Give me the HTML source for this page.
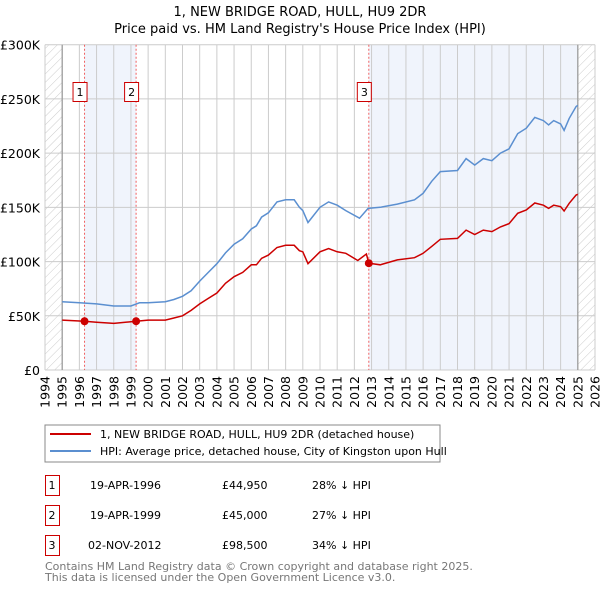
<!DOCTYPE html>
<html><head><meta charset="utf-8"><style>
body{margin:0;background:#fff;font-family:"DejaVu Sans","Liberation Sans",sans-serif;}
svg text{font-family:"DejaVu Sans","Liberation Sans",sans-serif;}
</style></head><body>
<svg id="c" width="600" height="590" xmlns="http://www.w3.org/2000/svg">
<defs><pattern id="h" width="6" height="6" patternUnits="userSpaceOnUse" patternTransform="rotate(45)"><line x1="0" y1="0" x2="0" y2="6" stroke="#ccc" stroke-width="1"/></pattern></defs>
<text x="300" y="16" text-anchor="middle" font-size="13">1, NEW BRIDGE ROAD, HULL, HU9 2DR</text>
<text x="300" y="33" text-anchor="middle" font-size="13">Price paid vs. HM Land Registry's House Price Index (HPI)</text>
<g id="plot"></g>
<rect x="45" y="425" width="395" height="37" fill="#fff" stroke="#888"/>
<line x1="50" y1="434" x2="91" y2="434" stroke="#cc0000" stroke-width="2"/>
<text x="100" y="438" font-size="11">1, NEW BRIDGE ROAD, HULL, HU9 2DR (detached house)</text>
<line x1="50" y1="451" x2="91" y2="451" stroke="#5b8fd0" stroke-width="2"/>
<text x="100" y="455" font-size="11">HPI: Average price, detached house, City of Kingston upon Hull</text>
<g font-size="11">
<rect x="45.5" y="475.5" width="14" height="20" fill="#fff" stroke="#cc0000"/><text x="52" y="489" text-anchor="middle">1</text>
<text x="90" y="489">19-APR-1996</text><text x="222" y="489">£44,950</text><text x="312" y="489">28% ↓ HPI</text>
<rect x="45.5" y="505.5" width="14" height="20" fill="#fff" stroke="#cc0000"/><text x="52" y="519" text-anchor="middle">2</text>
<text x="90" y="519">19-APR-1999</text><text x="222" y="519">£45,000</text><text x="312" y="519">27% ↓ HPI</text>
<rect x="45.5" y="535.5" width="14" height="20" fill="#fff" stroke="#cc0000"/><text x="52" y="549" text-anchor="middle">3</text>
<text x="88" y="549">02-NOV-2012</text><text x="222" y="549">£98,500</text><text x="312" y="549">34% ↓ HPI</text>
</g>
<text x="45" y="570" font-size="11" fill="#777">Contains HM Land Registry data © Crown copyright and database right 2025.</text>
<text x="45" y="581" font-size="11" fill="#777">This data is licensed under the Open Government Licence v3.0.</text>
</svg>
<script>
const yTicks=[0,50,100,150,200,250,300];
const yTickLabels=["£0","£50K","£100K","£150K","£200K","£250K","£300K"];
const xYears=[1994,1995,1996,1997,1998,1999,2000,2001,2002,2003,2004,2005,2006,2007,2008,2009,2010,2011,2012,2013,2014,2015,2016,2017,2018,2019,2020,2021,2022,2023,2024,2025,2026];
const hpiT=[1995,1996,1997,1998,1999,1999.5,2000,2001,2001.5,2002,2002.5,2003,2003.5,2004,2004.5,2005,2005.5,2006,2006.3,2006.6,2007,2007.5,2008,2008.5,2008.8,2009,2009.3,2010,2010.5,2011,2011.5,2012.3,2012.8,2013.5,2014.5,2015.5,2016,2016.5,2017,2018,2018.5,2019,2019.5,2020,2020.5,2021,2021.5,2022,2022.5,2023,2023.3,2023.6,2024,2024.2,2024.5,2024.9,2025];
const hpiV=[63,62,61,59,59,62,62,63,65,68,73,82,90,98,108,116,121,130,133,141,145,155,157,157,150,147,136,150,155,152,147,140,149,150,153,157,163,174,183,184,195,189,195,193,200,204,218,223,233,230,226,230,227,221,232,243,244];
const priceT=[1995,1996.3,1997,1998,1999.3,2000,2001,2001.5,2002,2002.5,2003,2003.5,2004,2004.5,2005,2005.5,2006,2006.3,2006.6,2007,2007.5,2008,2008.5,2008.8,2009,2009.3,2010,2010.5,2011,2011.5,2012.2,2012.7,2012.84,2013.5,2014.5,2015.5,2016,2016.5,2017,2018,2018.5,2019,2019.5,2020,2020.5,2021,2021.5,2022,2022.5,2023,2023.3,2023.6,2024,2024.2,2024.5,2024.9,2025];
const priceV=[46,44.95,44,43,45,46,46,48,50,55,61,66,71,80,86,90,97,97,103,106,113,115,115,110,109,98,109,112,109,107.6,101,107,98.5,97,101.5,103.6,107.6,114,120.5,121.4,129,125,129,127.6,132,135,144.5,147.6,154,152,149,152,150.6,146.6,153.7,161.4,162];
const saleT=[1996.3,1999.3,2012.84];
const saleV=[44.95,45,98.5];
const saleLabels=["1","2","3"];
const X0=45,X1=595,Y0=370,Y1=44.7;
const xs=t=>X0+(t-1994)/(2026-1994)*(X1-X0);
const ys=v=>Y0-v/300*(Y0-Y1);
const NS="http://www.w3.org/2000/svg";
const g=document.getElementById('plot');
function mk(tag,at,parent){const e=document.createElementNS(NS,tag);for(const k in at)e.setAttribute(k,at[k]);(parent||g).appendChild(e);return e;}
let e;
e=mk('rect',{x:xs(1994),y:Y1,width:xs(1995)-xs(1994),height:Y0-Y1,fill:'url(#h)'});


e=mk('rect',{x:xs(2025),y:Y1,width:xs(2026)-xs(2025),height:Y0-Y1,fill:'url(#h)'});


e=mk('rect',{x:xs(saleT[0]),y:Y1,width:xs(saleT[1])-xs(saleT[0]),height:Y0-Y1,fill:'#f0f4fc'});


e=mk('rect',{x:xs(saleT[2]),y:Y1,width:xs(2025)-xs(saleT[2]),height:Y0-Y1,fill:'#f0f4fc'});


xYears.forEach(y=>{
 e=mk('line',{x1:xs(y),x2:xs(y),y1:Y1,y2:Y0,stroke:'#ccc','stroke-width':1});
 
 
 e=mk('text',{x:0,y:0,'font-size':12.5,'text-anchor':'end',transform:`translate(${xs(y)+4.5},376) rotate(-90)`});
 e.textContent=y;
 
 
});
yTicks.forEach((v,i)=>{
 e=mk('line',{x1:X0,x2:X1,y1:ys(v),y2:ys(v),stroke:'#ccc','stroke-width':1});
 
 
 e=mk('text',{x:40,y:ys(v)+5,'font-size':12.5,'text-anchor':'end'});
 e.textContent=yTickLabels[i];
 
 
});
e=mk('line',{x1:xs(1995),x2:xs(1995),y1:Y1,y2:Y0,stroke:'#999','stroke-width':1.2});


e=mk('line',{x1:xs(2025),x2:xs(2025),y1:Y1,y2:Y0,stroke:'#999','stroke-width':1.2});


saleT.forEach((t,i)=>{
 e=mk('line',{x1:xs(t),x2:xs(t),y1:Y1,y2:Y0,stroke:'#f06060','stroke-width':1,'stroke-dasharray':'2,2'});
 
 
 e=mk('rect',{x:xs(t)-11.5,y:82.5,width:14,height:19,fill:'#fff',stroke:'#cc0000'});
 
 
 e=mk('text',{x:xs(t)-4.5,y:96,'font-size':11,'text-anchor':'middle'});
 e.textContent=saleLabels[i];
 
 
});
e=mk('path',{d:hpiT.map((t,i)=>(i?'L':'M')+xs(t).toFixed(1)+','+ys(hpiV[i]).toFixed(1)).join(''),fill:'none',stroke:'#5b8fd0','stroke-width':1.5});


e=mk('path',{d:priceT.map((t,i)=>(i?'L':'M')+xs(t).toFixed(1)+','+ys(priceV[i]).toFixed(1)).join(''),fill:'none',stroke:'#cc0000','stroke-width':1.5});


saleT.forEach((t,i)=>{
 e=mk('circle',{cx:xs(t),cy:ys(saleV[i]),r:4,fill:'#cc0000'});
 
 
});
</script>
</body></html>
